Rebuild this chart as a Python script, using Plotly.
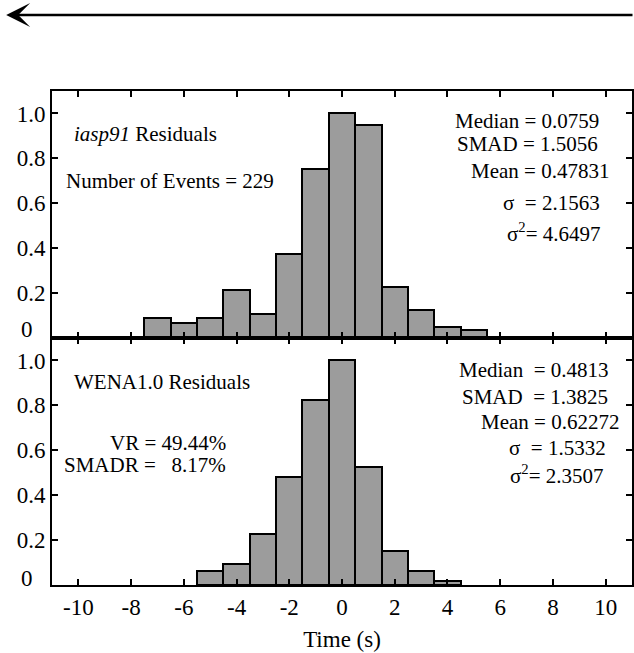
import plotly.graph_objects as go
from plotly.subplots import make_subplots

# ---- data ----
iasp_centers = [-7, -6, -5, -4, -3, -2, -1, 0, 1, 2, 3, 4, 5]
iasp_heights = [0.088, 0.066, 0.088, 0.213, 0.106, 0.374, 0.753, 1.0, 0.949, 0.229, 0.124, 0.049, 0.034]

wena_centers = [-5, -4, -3, -2, -1, 0, 1, 2, 3, 4]
wena_heights = [0.063, 0.093, 0.226, 0.482, 0.823, 1.0, 0.524, 0.152, 0.063, 0.019]

x_tick_vals = [-10, -8, -6, -4, -2, 0, 2, 4, 6, 8, 10]
x_tick_text = ["-10", "-8", "-6", "-4", "-2", "0", "2", "4", "6", "8", "10"]
y_tick_vals = [0, 0.2, 0.4, 0.6, 0.8, 1.0]
y_tick_text = ["", "0.2", "0.4", "0.6", "0.8", "1.0"]
zero_label = "0"

iasp_stats = ["Median = 0.0759", "SMAD = 1.5056", "Mean = 0.47831",
              "\u03c3\u00a0\u00a0= 2.1563", "\u03c3<sup>2</sup>= 4.6497"]
wena_stats = ["Median\u00a0\u00a0= 0.4813", "SMAD\u00a0\u00a0= 1.3825", "Mean = 0.62272",
              "\u03c3\u00a0\u00a0= 1.5332", "\u03c3<sup>2</sup>= 2.3507"]
wena_ratios = ["VR = 49.44%", "SMADR =\u00a0\u00a0\u00a08.17%"]

FONT = "Liberation Serif"
BAR_COLOR = "#9c9c9c"

fig = make_subplots(rows=2, cols=1, shared_xaxes=True, vertical_spacing=0)

fig.add_trace(go.Bar(x=iasp_centers, y=iasp_heights, width=1,
                     marker=dict(color=BAR_COLOR, line=dict(color="black", width=2)),
                     showlegend=False), row=1, col=1)
fig.add_trace(go.Bar(x=wena_centers, y=wena_heights, width=1,
                     marker=dict(color=BAR_COLOR, line=dict(color="black", width=2)),
                     showlegend=False), row=2, col=1)

axis_common = dict(showline=True, linecolor="black", linewidth=2, mirror="allticks",
                   ticks="inside", ticklen=6, tickwidth=1.5, tickcolor="black",
                   showgrid=False, zeroline=False,
                   tickfont=dict(family=FONT, size=23, color="black"))

fig.update_xaxes(range=[-11, 11], tickvals=x_tick_vals, ticktext=x_tick_text, **axis_common)
fig.update_xaxes(showticklabels=False, row=1, col=1)
fig.update_xaxes(title=dict(text="Time (s)", font=dict(family=FONT, size=23, color="black"),
                            standoff=12), row=2, col=1)
fig.update_yaxes(range=[0, 1.1], tickvals=y_tick_vals, ticktext=y_tick_text, **axis_common)

annotations = []
def txt(text, x, y, xref, yref, anchor, size=21):
    annotations.append(dict(text=text, x=x, y=y, xref=xref, yref=yref, xanchor=anchor,
                            yanchor="middle", showarrow=False,
                            font=dict(family=FONT, size=size, color="black")))

# zero labels sit slightly above their baselines
txt(zero_label, -0.03, 0.040, "paper", "y", "right", 23)
txt(zero_label, -0.03, 0.030, "paper", "y2", "right", 23)

txt("<i>iasp91</i> Residuals", -10.25, 0.909, "x", "y", "left")
txt("Number of Events = 229", -10.55, 0.70, "x", "y", "left")
top_pos = [(9.83, 0.967), (9.79, 0.864), (10.21, 0.744), (9.87, 0.601), (9.91, 0.468)]
for s, (x, y) in zip(iasp_stats, top_pos):
    txt(s, x, y, "x", "y", "right")

txt("WENA1.0 Residuals", -10.25, 0.904, "x2", "y2", "left")
txt(wena_ratios[0], -4.31, 0.632, "x2", "y2", "right")
txt(wena_ratios[1], -4.31, 0.535, "x2", "y2", "right")
bot_pos = [(10.21, 0.958), (10.17, 0.837), (10.59, 0.726), (10.09, 0.610), (10.02, 0.490)]
for s, (x, y) in zip(wena_stats, bot_pos):
    txt(s, x, y, "x2", "y2", "right")

# direction arrow at top
annotations.append(dict(text="", x=-0.079, y=1.1538, xref="paper", yref="paper",
                        ax=640, ay=0, axref="pixel", ayref="pixel",
                        showarrow=True, arrowhead=3, arrowsize=1.6, arrowwidth=2.5,
                        arrowcolor="black"))

fig.update_layout(width=634, height=653, margin=dict(l=52, r=0, t=91, b=68),
                  plot_bgcolor="white", paper_bgcolor="white", bargap=0,
                  annotations=annotations)

fig.write_html("out.html", config={"displayModeBar": False},
               post_script="document.body.style.margin='0';document.body.style.overflow='hidden';")
